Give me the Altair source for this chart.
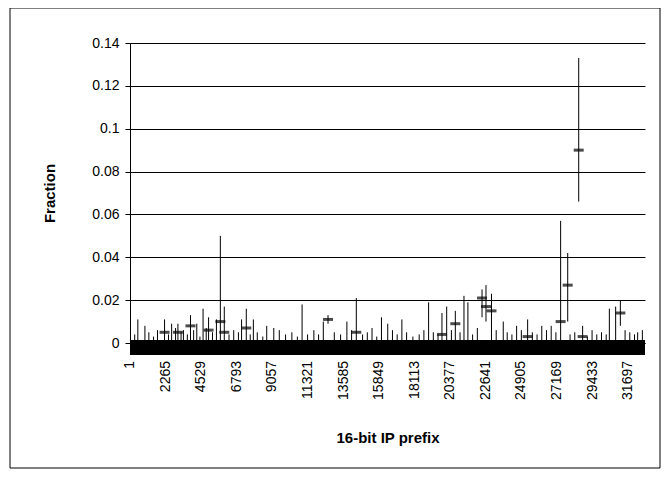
import altair as alt
import pandas as pd

# spikes: prefix, high, low, mean
prefix = [500, 950, 2200, 2650, 3050, 3400, 3850, 4250, 4650, 5000, 5500, 5750, 6000,
          7100, 7400, 7850, 8700, 9150, 10950, 12300, 12600, 13800, 14400, 15400, 16000,
          16400, 17300, 19000, 19850, 20150, 20700, 21250, 21500, 22400, 22650, 23000,
          23750, 24600, 25300, 26200, 26800, 27400, 27850, 28550, 28800, 30500, 30900,
          31200, 32300]
high = [0.011, 0.008, 0.011, 0.009, 0.009, 0.006, 0.013, 0.009, 0.016, 0.012, 0.011, 0.050, 0.017,
        0.011, 0.016, 0.011, 0.008, 0.007, 0.018, 0.010, 0.013, 0.010, 0.021, 0.007, 0.012,
        0.009, 0.011, 0.019, 0.014, 0.017, 0.015, 0.022, 0.019, 0.025, 0.027, 0.023,
        0.010, 0.008, 0.011, 0.008, 0.008, 0.057, 0.042, 0.133, 0.008, 0.016, 0.017,
        0.020, 0.005]
low = [0, 0, 0, 0, 0, 0, 0, 0, 0, 0, 0, 0, 0,
       0, 0, 0, 0, 0, 0, 0, 0.009, 0, 0, 0, 0,
       0, 0, 0, 0, 0, 0, 0, 0, 0.012, 0.010, 0,
       0, 0, 0, 0, 0, 0, 0.010, 0.066, 0, 0, 0,
       0.008, 0]
mean = [None, None, 0.005, None, 0.005, None, 0.008, None, None, 0.006, None, 0.010, 0.005,
        None, 0.007, None, None, None, None, None, 0.011, None, 0.005, None, None,
        None, None, None, 0.004, None, 0.009, None, None, 0.021, 0.017, 0.015,
        None, None, 0.003, None, None, 0.010, 0.027, 0.090, 0.003, None, None,
        0.014, None]

# small background spikes
small_x = [300, 1200, 1500, 1750, 2450, 2900, 3250, 3650, 4050, 4450, 4850, 5250, 6300,
           6600, 6900, 7650, 8100, 8450, 9500, 9900, 10300, 10650, 11300, 11700, 12000,
           13000, 13400, 14100, 14800, 15100, 15700, 16700, 17000, 17600, 18000, 18400,
           18700, 19300, 19600, 20450, 21000, 21800, 22100, 23300, 24000, 24300, 24900,
           25600, 25900, 26500, 27100, 28000, 28300, 29100, 29400, 29700, 30000, 30300,
           31500, 31800, 32100, 32600]
small_h = [0.004, 0.005, 0.003, 0.006, 0.004, 0.007, 0.005, 0.004, 0.006, 0.003, 0.007, 0.005, 0.004,
           0.006, 0.005, 0.004, 0.005, 0.003, 0.006, 0.004, 0.005, 0.003, 0.004, 0.006, 0.004,
           0.005, 0.004, 0.006, 0.004, 0.005, 0.003, 0.006, 0.004, 0.005, 0.003, 0.004,
           0.006, 0.005, 0.004, 0.006, 0.005, 0.004, 0.007, 0.006, 0.005, 0.004, 0.006,
           0.005, 0.004, 0.006, 0.005, 0.004, 0.005, 0.003, 0.006, 0.004, 0.005, 0.004,
           0.006, 0.005, 0.004, 0.006]

ticks = [1, 2265, 4529, 6793, 9057, 11321, 13585, 15849, 18113, 20377, 22641, 24905,
         27169, 29433, 31697]

df = pd.DataFrame({"p": prefix + small_x, "hi": high + small_h,
                   "lo": low + [0] * len(small_x)})
dm = pd.DataFrame({"p": prefix, "m": mean}).dropna()
band = pd.DataFrame({"a": [1], "b": [32768], "y1": [-0.0056], "y2": [0.0014]})
tl = pd.DataFrame({"p": ticks, "t": [str(v) for v in ticks]})

xs = alt.Scale(domain=[1, 32768], nice=False, zero=False)
ys = alt.Scale(domain=[0, 0.14], nice=False)
xax = alt.Axis(values=ticks, labels=False, title="16-bit IP prefix", grid=False,
               titleFontSize=15, titleFontWeight="bold", titleColor="black",
               domainColor="black", tickColor="black", titlePadding=82)
yax = alt.Axis(values=[0, 0.02, 0.04, 0.06, 0.08, 0.1, 0.12, 0.14], format="~g",
               title="Fraction", labelFontSize=14, titleFontSize=15, titleFontWeight="bold",
               labelColor="black", titleColor="black", domainColor="black",
               labelPadding=6, tickColor="black", gridColor="black", gridOpacity=1,
               titlePadding=34)

base = alt.Chart(df)
rules = base.mark_rule(color="black", strokeWidth=1, clip=False).encode(
    x=alt.X("p:Q", scale=xs, axis=xax),
    y=alt.Y("hi:Q", scale=ys, axis=yax),
    y2="lo:Q")
means = alt.Chart(dm).mark_tick(color="black", orient="horizontal", size=10, thickness=3).encode(
    x=alt.X("p:Q", scale=xs), y=alt.Y("m:Q", scale=ys))
bandm = alt.Chart(band).mark_rect(color="black", clip=False).encode(
    x=alt.X("a:Q", scale=xs), x2="b:Q", y=alt.Y("y1:Q", scale=ys), y2="y2:Q")
labels = alt.Chart(tl).mark_text(angle=270, align="right", baseline="middle", fontSize=14,
                                 font="Liberation Sans", color="black").encode(
    x=alt.X("p:Q", scale=xs), y=alt.value(318), text="t:N")
frame = alt.Chart(band).mark_rect(fill=None, stroke="black", strokeWidth=1).encode(
    x=alt.value(-120), x2=alt.value(530), y=alt.value(-35), y2=alt.value(425))

chart = alt.layer(frame, rules, bandm, means, labels).properties(
    width=515, height=300, autosize="none",
    padding={"left": 122, "top": 35, "right": 17, "bottom": 129}
).configure_view(stroke=None).configure_axis(labelFont="Liberation Sans",
                                              titleFont="Liberation Sans")

chart.save("out.html", embed_options={"renderer": "svg", "actions": False})
